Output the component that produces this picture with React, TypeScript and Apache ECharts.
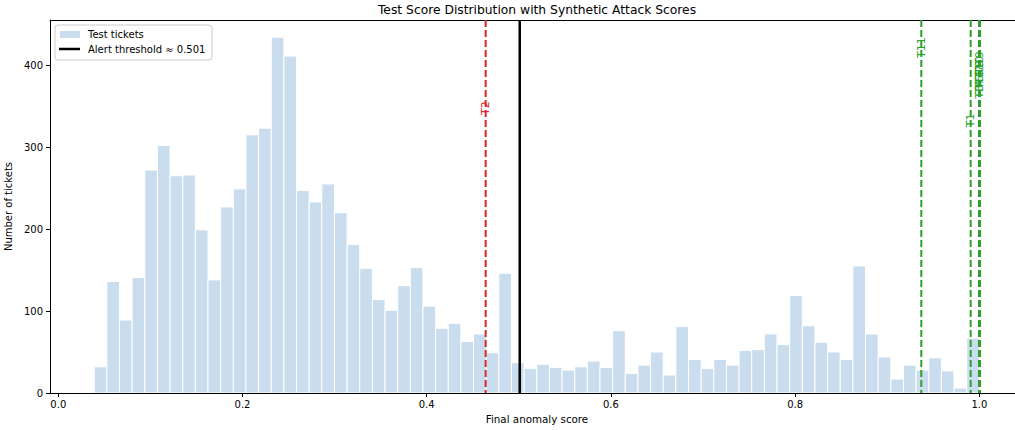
import React, { useEffect, useRef } from "react";
import * as echarts from "echarts";

// Histogram bins (70 equal-width bins between binMin and binMax)
const binMin = 0.039;
const binMax = 1.0;
const counts = [
  32, 136, 89, 141, 272, 302, 265, 266, 199, 138,
  227, 249, 315, 323, 434, 411, 247, 233, 255, 220,
  181, 152, 114, 101, 131, 153, 106, 79, 85, 63,
  72, 49, 146, 37, 30, 35, 31, 28, 32, 39,
  31, 76, 24, 34, 50, 22, 81, 41, 30, 41,
  34, 52, 53, 72, 59, 119, 82, 62, 50, 41,
  155, 72, 44, 17, 34, 28, 43, 27, 6, 67,
];

const threshold = 0.501;

const attackNames = ["T1", "T2", "T3", "T4", "T5", "T6", "T7", "T8", "T9", "T10", "T11"];
const attackScores = [0.9906, 0.464, 1.0, 1.0, 1.0, 1.0, 1.0, 1.0, 1.0, 1.0, 0.937];
// value (in ticket counts) where the top of each rotated label sits
const attackLabelTop = [341, 356, 376, 382, 388, 394, 400, 406, 417, 411, 434];

const xTicks = [0, 0.2, 0.4, 0.6, 0.8, 1.0];
const yTicks = [0, 100, 200, 300, 400];

const titleText = "Test Score Distribution with Synthetic Attack Scores";
const xLabel = "Final anomaly score";
const yLabel = "Number of tickets";
const histName = "Test tickets";

const BAR_COLOR = "rgb(202,221,238)";
const RED = "#d62728";
const GREEN = "#2ca02c";
const FONT = "DejaVu Sans";

const X_MIN = -0.009;
const X_MAX = 1.0485;

export default function App() {
  const ref = useRef<HTMLDivElement>(null);

  useEffect(() => {
    if (!ref.current) return;
    const chart = echarts.init(ref.current, null, { renderer: "svg" });
    const w = (binMax - binMin) / counts.length;
    const histData = counts.map((c, i) => [binMin + i * w, binMin + (i + 1) * w, c]);
    const lineValues = [threshold, ...attackScores];

    const option: any = {
      animation: false,
      textStyle: { fontFamily: FONT },
      grid: {
        left: 50,
        right: 1,
        top: 20,
        bottom: 37,
        show: false,
        containLabel: false,
        outerBoundsMode: "none",
      },
      xAxis: [
        {
          type: "value",
          min: X_MIN,
          max: X_MAX,
          z: 3,
          splitLine: { show: false },
          axisLine: { show: true, onZero: false, lineStyle: { color: "#000", width: 1 } },
          axisTick: { show: true, customValues: xTicks, length: 4, lineStyle: { color: "#000" } },
          axisLabel: {
            customValues: xTicks,
            formatter: (v: number) => v.toFixed(1),
            fontSize: 10,
            color: "#000",
            fontFamily: FONT,
            margin: 6,
          },
          name: xLabel,
          nameLocation: "middle",
          nameGap: 21,
          nameTextStyle: { fontSize: 10.3, color: "#000", fontFamily: FONT },
        },
        {
          type: "value",
          position: "top",
          min: X_MIN,
          max: X_MAX,
          z: 3,
          splitLine: { show: false },
          axisLine: { show: true, onZero: false, lineStyle: { color: "#000", width: 1 } },
          axisTick: { show: false },
          axisLabel: { show: false },
        },
      ],
      yAxis: {
        type: "value",
        min: 0,
        max: 455,
        z: 3,
        splitLine: { show: false },
        axisLine: { show: true, onZero: false, lineStyle: { color: "#000", width: 1 } },
        axisTick: { show: true, customValues: yTicks, length: 4, lineStyle: { color: "#000" } },
        axisLabel: {
          customValues: yTicks,
          fontSize: 10,
          color: "#000",
          fontFamily: FONT,
          margin: 7,
        },
        name: yLabel,
        nameLocation: "middle",
        nameGap: 32,
        nameRotate: 90,
        nameTextStyle: { fontSize: 10, color: "#000", fontFamily: FONT },
      },
      series: [
        {
          type: "custom",
          name: histName,
          xAxisIndex: 0,
          data: histData,
          encode: { x: [0, 1], y: 2 },
          z: 1,
          renderItem: (params: any, api: any) => {
            const x0 = api.value(0);
            const x1 = api.value(1);
            const c = api.value(2);
            const p0 = api.coord([x0, c]);
            const p1 = api.coord([x1, 0]);
            return {
              type: "rect",
              shape: { x: p0[0], y: p0[1], width: p1[0] - p0[0], height: p1[1] - p0[1] },
              style: { fill: BAR_COLOR, stroke: "#fff", lineWidth: 1 },
            };
          },
        },
        {
          type: "custom",
          name: "lines",
          xAxisIndex: 0,
          data: lineValues.map((v) => [v, 0]),
          encode: { x: 0, y: 1 },
          z: 4,
          renderItem: (params: any, api: any) => {
            const i = params.dataIndex;
            const v = api.value(0);
            const p = api.coord([v, 0]);
            const cs = params.coordSys;
            const isThreshold = i === 0;
            const color = isThreshold ? "#000" : v >= threshold ? GREEN : RED;
            return {
              type: "line",
              shape: { x1: p[0], y1: cs.y, x2: p[0], y2: cs.y + cs.height },
              style: {
                stroke: color,
                lineWidth: isThreshold ? 2.5 : 2,
                lineDash: isThreshold ? null : [7, 3],
              },
            };
          },
        },
        {
          type: "custom",
          name: "labels",
          xAxisIndex: 0,
          data: attackNames.map((n, i) => [attackScores[i], attackLabelTop[i]]),
          encode: { x: 0, y: 1 },
          z: 5,
          renderItem: (params: any, api: any) => {
            const i = params.dataIndex;
            const p = api.coord([api.value(0), api.value(1)]);
            return {
              type: "text",
              x: p[0],
              y: p[1],
              rotation: Math.PI / 2,
              z2: 10,
              style: {
                text: attackNames[i],
                fill: attackScores[i] >= threshold ? GREEN : RED,
                fontSize: 11,
                fontFamily: FONT,
                align: "right",
                verticalAlign: "middle",
              },
            };
          },
        },
      ],
      graphic: [
        {
          type: "text",
          x: 537,
          y: 10,
          style: {
            text: titleText,
            fontSize: 12.3,
            fontFamily: FONT,
            fill: "#000",
            align: "center",
            verticalAlign: "middle",
          },
        },
        {
          type: "group",
          z: 100,
          children: [
            {
              type: "rect",
              shape: { x: 55, y: 25, width: 157, height: 35, r: 3 },
              style: { fill: "rgba(255,255,255,0.8)", stroke: "#cccccc", lineWidth: 1 },
            },
            {
              type: "rect",
              shape: { x: 60, y: 31, width: 20, height: 7 },
              style: { fill: BAR_COLOR },
            },
            {
              type: "line",
              shape: { x1: 59, y1: 49, x2: 80, y2: 49 },
              style: { stroke: "#000", lineWidth: 2.5 },
            },
            {
              type: "text",
              x: 88,
              y: 34.5,
              style: { text: histName, fontSize: 10, fontFamily: FONT, fill: "#000", verticalAlign: "middle" },
            },
            {
              type: "text",
              x: 88,
              y: 49,
              style: {
                text: "Alert threshold \u2248 " + threshold.toFixed(3),
                fontSize: 10,
                fontFamily: FONT,
                fill: "#000",
                verticalAlign: "middle",
              },
            },
          ],
        },
      ],
    };
    chart.setOption(option);
    return () => chart.dispose();
  }, []);

  return (
    <div
      style={{
        position: "absolute",
        left: 0,
        top: 0,
        width: 1015,
        height: 430,
        overflow: "hidden",
        background: "#fff",
      }}
    >
      <div ref={ref} style={{ width: 1025, height: 430 }} />
    </div>
  );
}
